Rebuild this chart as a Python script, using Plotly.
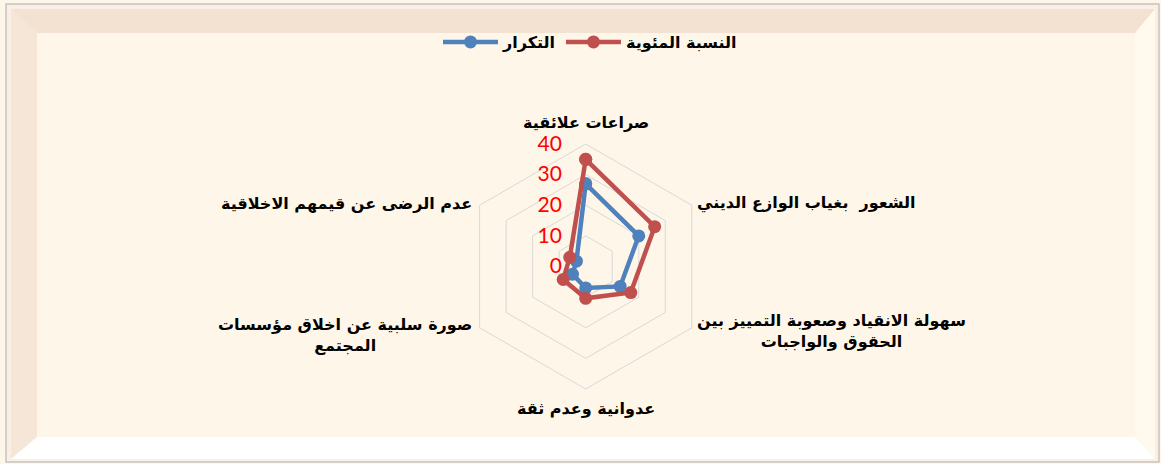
import math
import plotly.graph_objects as go

categories = [
    "صراعات علائقية",
    "الشعور  بغياب الوازع الديني",
    "سهولة الانقياد وصعوبة التمييز بين<br>الحقوق والواجبات",
    "عدوانية وعدم ثقة",
    "صورة سلبية عن اخلاق مؤسسات<br>المجتمع",
    "عدم الرضى عن قيمهم الاخلاقية",
]
freq = [27, 20, 13, 7, 5, 3.5]
pct = [35, 26, 17, 10.4, 8.5, 6]
series_names = ["التكرار", "النسبة المئوية"]
radial_ticks = [0, 10, 20, 30, 40]

W, H = 1161, 464
BLUE = "#4F81BD"
RED = "#C0504D"
LABEL_FONT = dict(family="DejaVu Sans", size=16, color="black", weight="bold")

fig = go.Figure()
for name, vals, col in [(series_names[0], freq, BLUE), (series_names[1], pct, RED)]:
    fig.add_trace(go.Scatterpolar(
        r=vals + [vals[0]], theta=categories + [categories[0]],
        mode="lines+markers", name=name,
        line=dict(color=col, width=4.5),
        marker=dict(color=col, size=13),
    ))

def px(x):
    return x / W

def py(y):
    return 1 - y / H

shapes = []
shapes.append(dict(type="rect", xref="paper", yref="paper", x0=px(6), x1=px(1159), y0=py(462), y1=py(4),
                   line=dict(color="#C4C4C4", width=1.5), fillcolor="#FBEFE3", layer="below"))
ox0, ox1, oy0, oy1 = 11, 1155, 9, 459
ix0, ix1, iy0, iy1 = 37, 1135, 33, 437
def poly(pts, color):
    p = "M " + " L ".join(f"{px(a)},{py(b)}" for a, b in pts) + " Z"
    return dict(type="path", xref="paper", yref="paper", path=p, fillcolor=color,
                line=dict(width=0), layer="below")
shapes.append(poly([(ox0, oy0), (ox1, oy0), (ix1, iy0), (ix0, iy0)], "#F3E1D2"))
shapes.append(poly([(ox0, oy0), (ix0, iy0), (ix0, iy1), (ox0, oy1)], "#F6E6D7"))
shapes.append(poly([(ox1, oy0), (ox1, oy1), (ix1, iy1), (ix1, iy0)], "#FFF9EE"))
shapes.append(poly([(ox0, oy1), (ix0, iy1), (ix1, iy1), (ox1, oy1)], "#FFFFFF"))
shapes.append(dict(type="rect", xref="paper", yref="paper", x0=px(ix0), x1=px(ix1), y0=py(iy1), y1=py(iy0),
                   line=dict(width=0), fillcolor="#FEF6E8", layer="below"))

cx, cy, R = 585.7, 266.5, 122.5

# category labels placed just outside each vertex of the hexagon
annotations = []
n = len(categories)
for i, lab in enumerate(categories):
    ang = math.radians(90 - 360 * i / n)
    vx = cx + R * math.cos(ang)
    vy = cy - R * math.sin(ang)
    c = math.cos(ang)
    s = math.sin(ang)
    if c > 0.1:
        xa, xs = "left", 3
    elif c < -0.1:
        xa, xs = "right", -6
    else:
        xa, xs = "center", 0
    if abs(c) <= 0.1:
        ya, ys = "middle", 21 if s > 0 else -19
    else:
        ya, ys = "middle", (2 if s > 0 else -3)
        if c < 0 and s < 0:
            ys = -7
    annotations.append(dict(x=px(vx), y=py(vy), xref="paper", yref="paper", text=lab,
                            showarrow=False, xanchor=xa, yanchor=ya, xshift=xs, yshift=ys,
                            align="center", font=LABEL_FONT))

fig.update_layout(
    width=W, height=H,
    margin=dict(l=0, r=0, t=0, b=0),
    paper_bgcolor="#FEF6E8",
    shapes=shapes,
    annotations=annotations,
    showlegend=True,
    legend=dict(orientation="h", x=px(590), y=py(42), xanchor="center", yanchor="middle",
                itemwidth=55,
                font=dict(family="DejaVu Sans", size=16, color="black", weight="bold"),
                bgcolor="rgba(0,0,0,0)"),
    polar=dict(
        domain=dict(x=[px(cx - R), px(cx + R)], y=[py(cy + R), py(cy - R)]),
        bgcolor="rgba(0,0,0,0)",
        gridshape="linear",
        radialaxis=dict(range=[0, 40], tickvals=radial_ticks, angle=90, tickangle=90,
                        side="counterclockwise",
                        showline=False, showgrid=True, gridcolor="#D9D9D9", gridwidth=1,
                        ticks="outside", ticklen=16, tickcolor="rgba(0,0,0,0)",
                        tickfont=dict(family="Lato", size=21, color="#FF0000")),
        angularaxis=dict(rotation=90, direction="clockwise", showgrid=False,
                         showline=True, linecolor="#D9D9D9", linewidth=1, ticks="",
                         showticklabels=False),
    ),
)
fig.write_html("out.html")
